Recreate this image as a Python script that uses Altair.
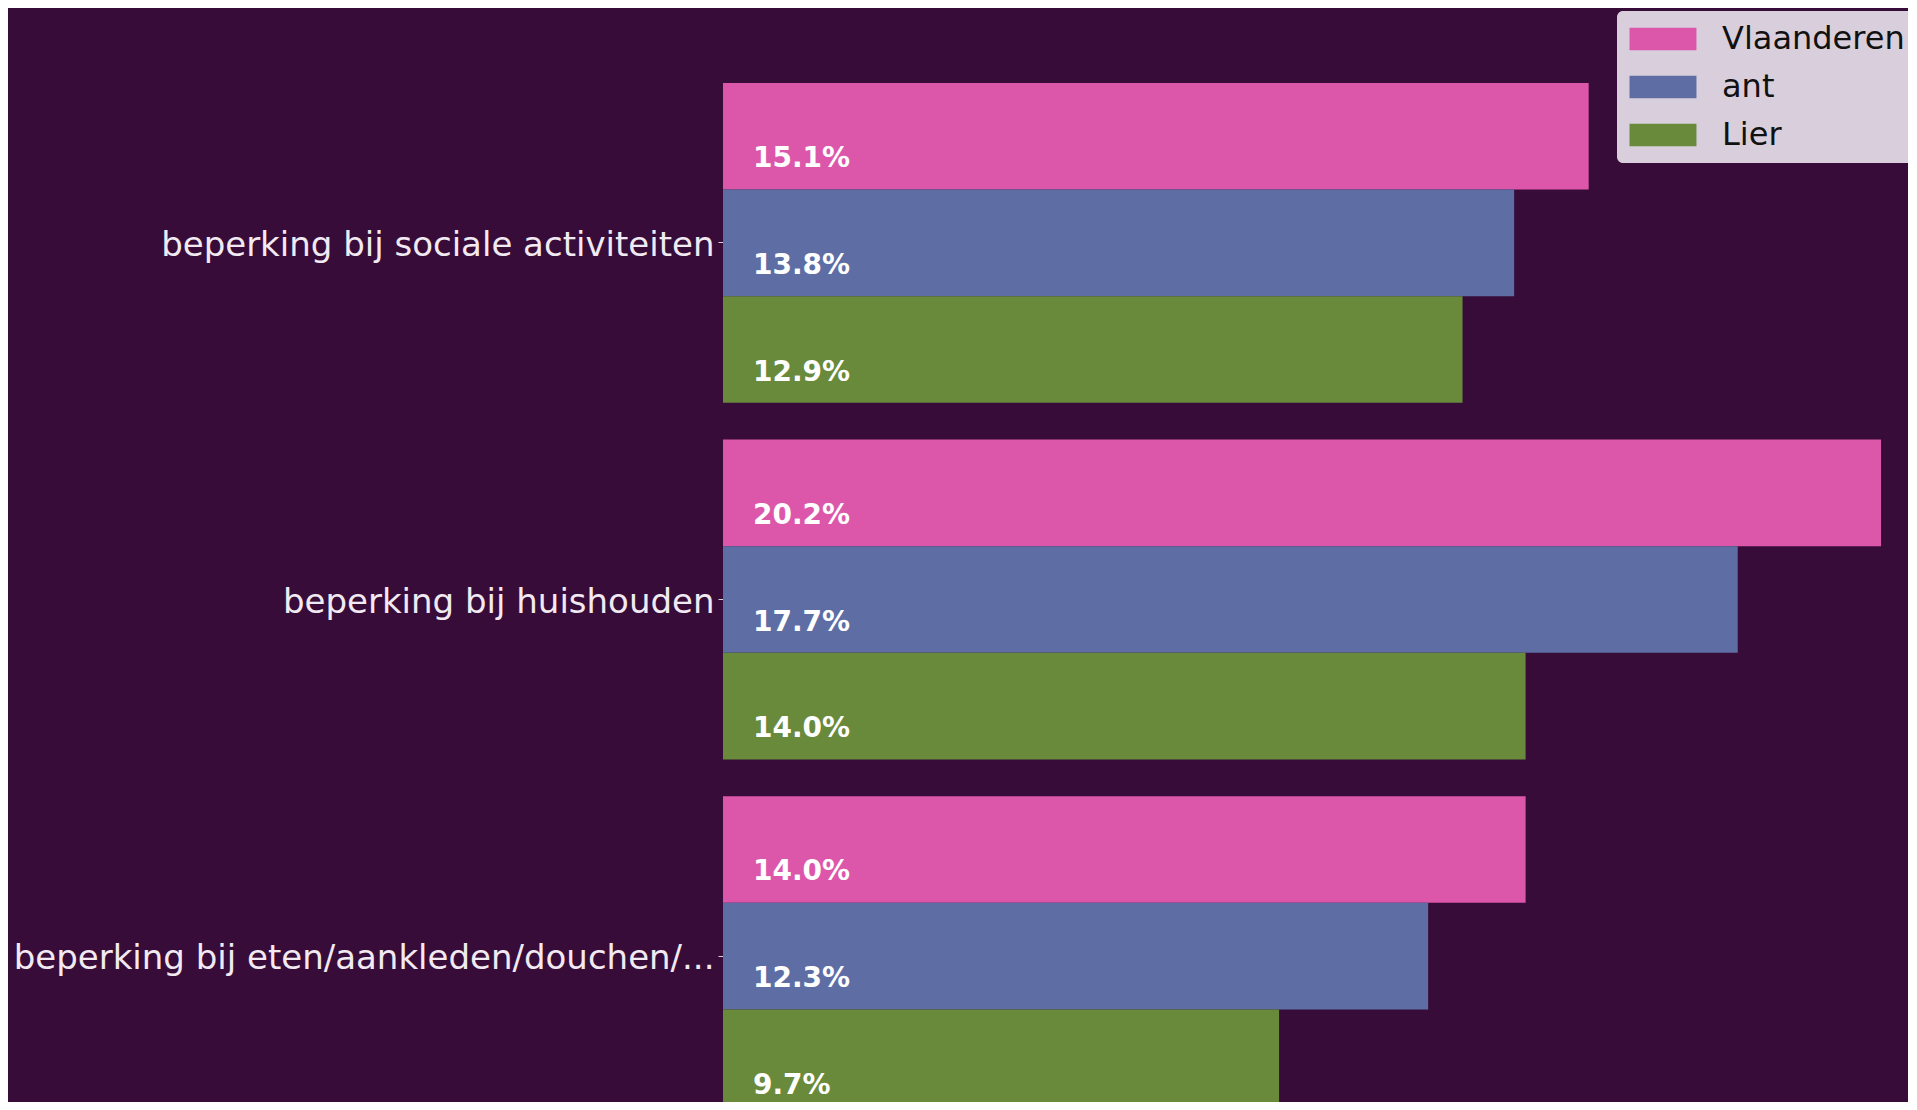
import altair as alt
import pandas as pd

categories = [
    "beperking bij sociale activiteiten",
    "beperking bij huishouden",
    "beperking bij eten/aankleden/douchen/...",
]
series = ["Vlaanderen", "ant", "Lier"]
vlaanderen = [15.1, 20.2, 14.0]
ant = [13.8, 17.7, 12.3]
lier = [12.9, 14.0, 9.7]
colors = ["#dc57aa", "#5e6ea5", "#69893b"]

rows = []
for i, c in enumerate(categories):
    for s, vals in zip(series, [vlaanderen, ant, lier]):
        rows.append({"categorie": c, "reeks": s, "waarde": vals[i], "label": f"{vals[i]:.1f}%"})
df = pd.DataFrame(rows)

W, H = 1185, 1019

y = alt.Y(
    "categorie:N",
    sort=categories,
    scale=alt.Scale(range=[0, 1033], paddingInner=0.103, paddingOuter=0),
    axis=alt.Axis(
        title=None,
        labelFont="DejaVu Sans",
        labelFontSize=34,
        labelColor="#f2eaf2",
        tickColor="#d8d0d8",
        tickSize=5,
        domain=False,
        labelPadding=4,
        labelOffset=3,
        labelLimit=900,
    ),
)
yoff = alt.YOffset("reeks:N", sort=series, scale=alt.Scale(paddingInner=0, paddingOuter=0))
x = alt.X("waarde:Q", scale=alt.Scale(domain=[0, 20.67], nice=False, zero=True), axis=None)

bars = alt.Chart(df).mark_bar(clip=True).encode(
    x=x,
    y=y,
    yOffset=yoff,
    color=alt.Color(
        "reeks:N",
        sort=series,
        scale=alt.Scale(domain=series, range=colors),
        legend=alt.Legend(
            title=None,
            orient="none",
            legendX=894,
            legendY=-72,
            fillColor="#d9cfdc",
            cornerRadius=6,
            padding=12,
            symbolType="M-3,-1H3V1H-3Z",
            symbolSize=498,
            symbolOffset=18,
            symbolStrokeWidth=0,
            symbolOpacity=1,
            labelFont="DejaVu Sans",
            labelFontSize=32,
            labelColor="#111111",
            labelOffset=43,
            labelLimit=600,
            rowPadding=16,
        ),
    ),
)

text = alt.Chart(df).mark_text(
    align="left",
    baseline="alphabetic",
    dx=30,
    dy=31,
    font="DejaVu Sans",
    fontWeight="bold",
    fontSize=28,
    color="white",
).encode(
    x=alt.datum(0),
    y=alt.Y("categorie:N", sort=categories),
    yOffset=alt.YOffset("reeks:N", sort=series),
    text="label:N",
)

chart = (
    alt.layer(bars, text)
    .properties(
        width=W,
        height=H,
        padding={"left": 715, "top": 75, "right": 0, "bottom": 0},
        autosize=alt.AutoSizeParams(type="none"),
        background="#370c38",
    )
    .configure_view(strokeWidth=0)
)

chart.save("out.html", embed_options={"renderer": "svg", "actions": False})
